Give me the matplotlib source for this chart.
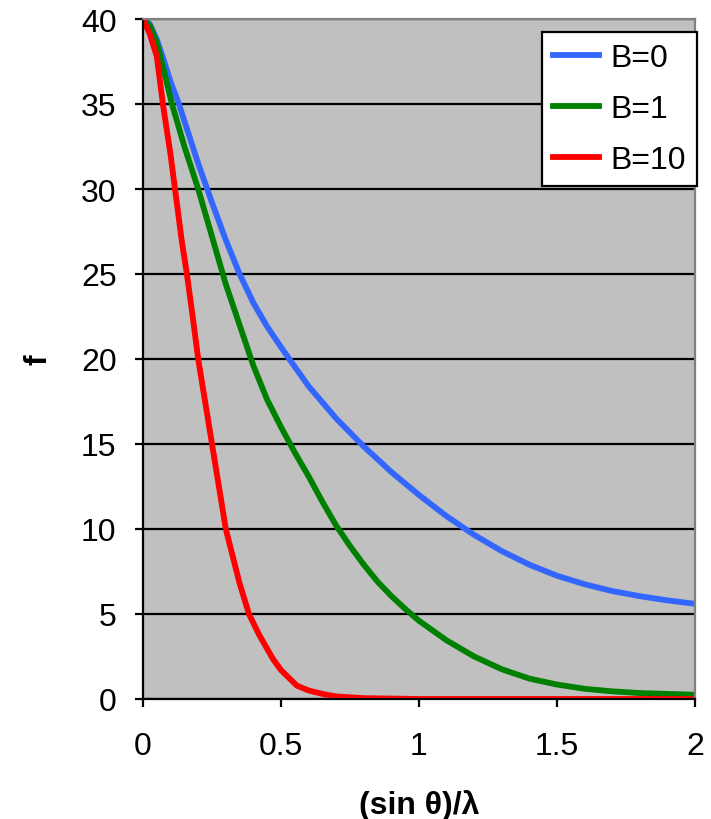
import matplotlib
matplotlib.use("Agg")
import matplotlib.pyplot as plt

# values
s_b0 = [0, 0.025, 0.05, 0.075, 0.1, 0.13, 0.15, 0.2, 0.25, 0.3, 0.35, 0.4, 0.45, 0.5, 0.53,
        0.6, 0.7, 0.8, 0.9, 1.0, 1.1, 1.2, 1.3, 1.4, 1.5, 1.6, 1.7, 1.8, 1.9, 2.0]
f_b0 = [40, 39.7, 38.8, 37.6, 36.3, 35.0, 34.0, 31.5, 29.2, 27.0, 25.0, 23.3, 21.9, 20.7, 20.0,
        18.4, 16.5, 14.85, 13.35, 12.0, 10.75, 9.65, 8.7, 7.9, 7.25, 6.75, 6.35, 6.05, 5.8, 5.6]

s_b1 = [0, 0.025, 0.05, 0.075, 0.105, 0.15, 0.2, 0.25, 0.3, 0.35, 0.4, 0.45, 0.5, 0.55, 0.6,
        0.65, 0.7, 0.75, 0.8, 0.85, 0.9, 0.95, 1.0, 1.1, 1.2, 1.3, 1.4, 1.5, 1.6, 1.7, 1.8, 1.9, 2.0]
f_b1 = [40, 39.6, 38.6, 37.0, 35.0, 32.5, 30.0, 27.2, 24.4, 22.0, 19.6, 17.6, 16.0, 14.5, 13.1,
        11.6, 10.2, 9.0, 7.9, 6.9, 6.05, 5.3, 4.6, 3.45, 2.5, 1.75, 1.2, 0.85, 0.6, 0.45, 0.35, 0.3, 0.25]

s_b10 = [0, 0.025, 0.05, 0.072, 0.1, 0.116, 0.14, 0.159, 0.18, 0.2, 0.225, 0.25, 0.275, 0.3,
         0.35, 0.384, 0.42, 0.471, 0.5, 0.558, 0.6, 0.65, 0.7, 0.8, 1.0, 1.5, 2.0]
f_b10 = [40, 39.1, 37.8, 35.0, 32.0, 30.0, 27.0, 25.0, 22.5, 20.0, 17.5, 15.0, 12.5, 10.0,
         6.8, 5.0, 3.8, 2.35, 1.7, 0.78, 0.5, 0.3, 0.15, 0.05, 0.0, 0.0, 0.0]

labels = ["B=0", "B=1", "B=10"]
colors = ["#3366FF", "#008000", "#FF0000"]

plt.rcParams["font.family"] = ["Liberation Sans", "DejaVu Sans"]

fig = plt.figure(figsize=(7.11, 8.2), dpi=100)
ax = fig.add_axes([143 / 711, 1 - 700 / 820, (695 - 143) / 711, (700 - 20) / 820])
ax.set_facecolor("#C0C0C0")

for xs, ys, lab, col in zip([s_b0, s_b1, s_b10], [f_b0, f_b1, f_b10], labels, colors):
    ax.plot(xs, ys, color=col, lw=4.2, label=lab)

ax.set_xlim(0, 2)
ax.set_ylim(0, 40)
ax.set_xticks([0, 0.5, 1, 1.5, 2])
ax.set_xticklabels(["0", "0.5", "1", "1.5", "2"])
ax.set_yticks(range(0, 41, 5))

ax.yaxis.grid(True, color="black", lw=1.6)
ax.set_axisbelow(True)

for side in ["left", "bottom"]:
    ax.spines[side].set_color("black")
    ax.spines[side].set_linewidth(1.6)
for side in ["top", "right"]:
    ax.spines[side].set_color("#808080")
    ax.spines[side].set_linewidth(1.6)

ax.tick_params(axis="both", direction="out", length=6, width=1.6, labelsize=23, color="black")
ax.tick_params(axis="x", pad=17)
ax.tick_params(axis="y", pad=13)

ax.set_xlabel("(sin θ)/λ", fontsize=23, fontweight="bold", labelpad=20)
ax.set_ylabel("f", fontsize=23, fontweight="bold", labelpad=20)

leg = ax.legend(loc="upper right", bbox_to_anchor=(697 / 711, 1 - 33 / 820),
                bbox_transform=fig.transFigure, borderaxespad=0, fontsize=23,
                fancybox=False, framealpha=1, edgecolor="black", handlelength=1.45,
                handletextpad=0.35, labelspacing=0.65, borderpad=0.35)
leg.get_frame().set_linewidth(1.6)

fig.savefig("out.png", dpi=100)
